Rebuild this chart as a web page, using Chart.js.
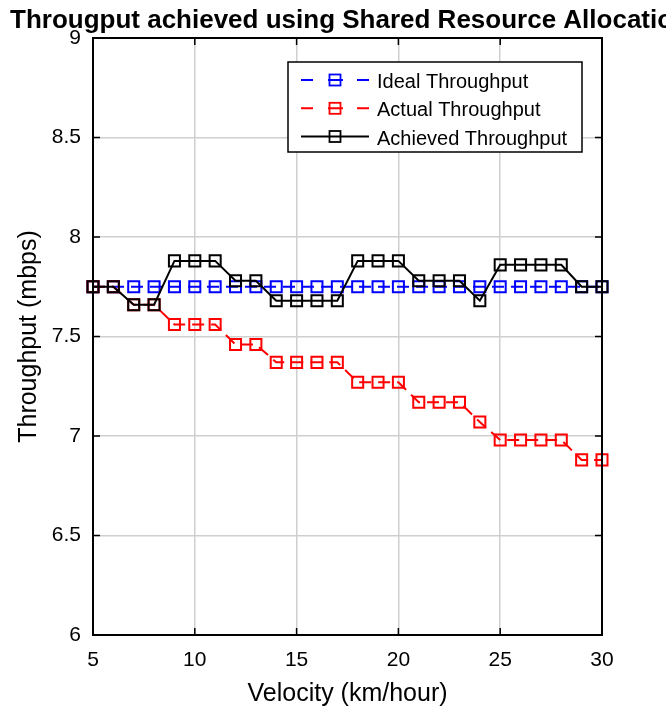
<!DOCTYPE html>
<html><head><meta charset="utf-8">
<script src="https://cdn.jsdelivr.net/npm/chart.js@4.4.0/dist/chart.umd.min.js"></script>
<style>html,body{margin:0;padding:0;background:#fff;}canvas{display:block;}</style>
</head><body>
<canvas id="c" width="666" height="709"></canvas>
<script>
const velocity = [5,6,7,8,9,10,11,12,13,14,15,16,17,18,19,20,21,22,23,24,25,26,27,28,29,30];
const idealThroughput = [7.75,7.75,7.75,7.75,7.75,7.75,7.75,7.75,7.75,7.75,7.75,7.75,7.75,7.75,7.75,7.75,7.75,7.75,7.75,7.75,7.75,7.75,7.75,7.75,7.75,7.75];
const actualThroughput = [7.75,7.75,7.66,7.66,7.56,7.56,7.56,7.46,7.46,7.37,7.37,7.37,7.37,7.27,7.27,7.27,7.17,7.17,7.17,7.07,6.98,6.98,6.98,6.98,6.88,6.88];
const achievedThroughput = [7.75,7.75,7.66,7.66,7.88,7.88,7.88,7.78,7.78,7.68,7.68,7.68,7.68,7.88,7.88,7.88,7.78,7.78,7.78,7.68,7.86,7.86,7.86,7.86,7.75,7.75];
const xTicks = [5,10,15,20,25,30];
const yTicks = [6,6.5,7,7.5,8,8.5,9];
const seriesNames = ['Ideal Throughput','Actual Throughput','Achieved Throughput'];
const titleText = 'Througput achieved using Shared Resource Allocation';
const xTitle = 'Velocity (km/hour)';
const yTitle = 'Throughput (mbps)';

const FONT = '"Liberation Sans", Arial, Helvetica, sans-serif';
Chart.defaults.font.family = FONT;
Chart.defaults.color = '#000';

function pts(ys){ return velocity.map((v,i)=>({x:v,y:ys[i]})); }

const decor = {
  id:'decor',
  afterDraw(chart){
    const ctx = chart.ctx, a = chart.chartArea;
    const xs = chart.scales.x, ys = chart.scales.y;
    ctx.save();
    ctx.strokeStyle = '#000'; ctx.lineWidth = 2;
    ctx.strokeRect(a.left, a.top, a.right-a.left, a.bottom-a.top);
    ctx.lineWidth = 1.5;
    ctx.beginPath();
    xTicks.forEach(v=>{
      const p = xs.getPixelForValue(v);
      ctx.moveTo(p, a.bottom); ctx.lineTo(p, a.bottom-7);
      ctx.moveTo(p, a.top); ctx.lineTo(p, a.top+7);
    });
    yTicks.forEach(v=>{
      const p = ys.getPixelForValue(v);
      ctx.moveTo(a.left, p); ctx.lineTo(a.left+7, p);
      ctx.moveTo(a.right, p); ctx.lineTo(a.right-7, p);
    });
    ctx.stroke();
    ctx.font = 'bold 26px ' + FONT;
    ctx.fillStyle = '#000';
    ctx.textBaseline = 'alphabetic';
    ctx.textAlign = 'left';
    ctx.fillText(titleText, 10, 28);
    const bx = 288, by = 62, bw = 294, bh = 90;
    ctx.fillStyle = '#fff';
    ctx.fillRect(bx, by, bw, bh);
    ctx.strokeStyle = '#000'; ctx.lineWidth = 1.5;
    ctx.strokeRect(bx, by, bw, bh);
    const rows = [80, 108.3, 136.5];
    chart.data.datasets.forEach((ds,i)=>{
      const y = rows[i];
      ctx.strokeStyle = ds.borderColor;
      ctx.lineWidth = 2;
      ctx.beginPath();
      if (ds.borderDash && ds.borderDash.length){
        ctx.moveTo(301,y); ctx.lineTo(313,y);
        ctx.moveTo(328,y); ctx.lineTo(343,y);
        ctx.moveTo(357,y); ctx.lineTo(369,y);
      } else {
        ctx.moveTo(301,y); ctx.lineTo(369,y);
      }
      ctx.stroke();
      ctx.lineWidth = 1.8;
      ctx.strokeRect(335-5.5, y-5.5, 11, 11);
      ctx.fillStyle = '#000';
      ctx.font = '20px ' + FONT;
      ctx.fillText(ds.label, 377, y+8);
    });
    ctx.restore();
  }
};

new Chart(document.getElementById('c'), {
  type:'line',
  data:{
    datasets:[
      {label:seriesNames[0], data:pts(idealThroughput), borderColor:'#0000ff', borderDash:[12,7], order:3},
      {label:seriesNames[1], data:pts(actualThroughput), borderColor:'#ff0000', borderDash:[12,7], order:2},
      {label:seriesNames[2], data:pts(achievedThroughput), borderColor:'#000000', order:1}
    ].map(d=>Object.assign({
      borderWidth:2, tension:0, pointStyle:'rect', pointRadius:7.8, pointBorderWidth:2,
      pointBackgroundColor:'rgba(0,0,0,0)', pointBorderColor:d.borderColor, fill:false, clip:false
    }, d))
  },
  options:{
    responsive:false, animation:false, devicePixelRatio:1,
    layout:{padding:{left:0,right:64,top:38,bottom:0}},
    plugins:{legend:{display:false}, title:{display:false}, tooltip:{enabled:false}},
    scales:{
      x:{
        type:'linear', min:5, max:30,
        afterBuildTicks:s=>{ s.ticks = xTicks.map(v=>({value:v})); },
        afterFit:s=>{ s.height = 74; },
        grid:{color:'#cfcfcf', lineWidth:1.5, drawTicks:false},
        border:{display:false},
        ticks:{font:{size:21}, padding:13, color:'#000', maxRotation:0, callback:v=>String(v)},
        title:{display:true, text:xTitle, font:{size:25}, padding:{top:0,bottom:0}, color:'#000'}
      },
      y:{
        type:'linear', min:6, max:9,
        afterBuildTicks:s=>{ s.ticks = yTicks.map(v=>({value:v})); },
        afterFit:s=>{ s.width = 93; },
        grid:{color:'#cfcfcf', lineWidth:1.5, drawTicks:false},
        border:{display:false},
        ticks:{font:{size:21}, padding:12, color:'#000', callback:v=>String(v)},
        title:{display:true, text:yTitle, font:{size:25}, padding:{top:14,bottom:0}, color:'#000'}
      }
    }
  },
  plugins:[decor]
});
</script>
</body></html>
